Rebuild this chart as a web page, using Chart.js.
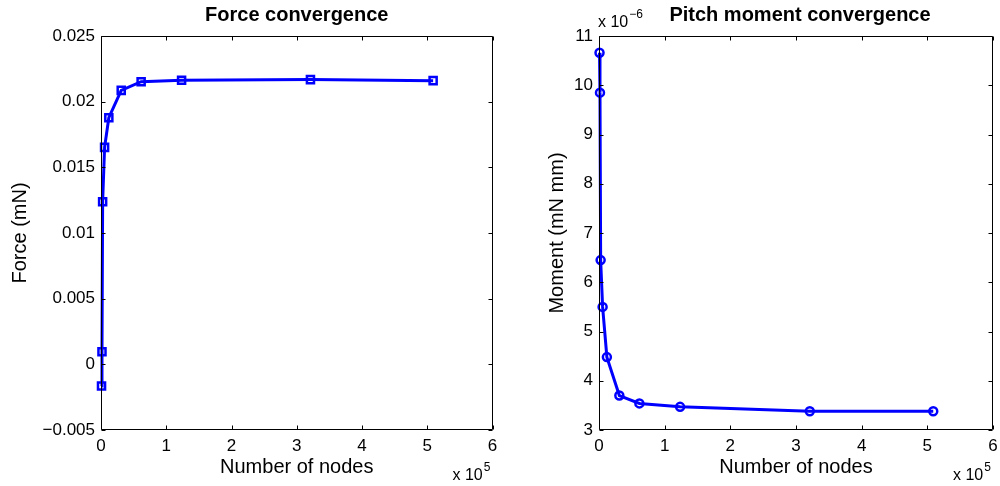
<!DOCTYPE html>
<html>
<head>
<meta charset="utf-8">
<script src="https://cdn.jsdelivr.net/npm/chart.js@4/dist/chart.umd.min.js"></script>
<style>
body { margin: 0; background: #fff; }
#wrap { position: relative; width: 1000px; height: 486px; }
.box { position: absolute; top: 0; width: 500px; height: 486px; }
</style>
</head>
<body>
<div id="wrap">
    <div class="box" style="left:0"><canvas id="chartForce"></canvas></div>
    <div class="box" style="left:500px"><canvas id="chartMoment"></canvas></div>
</div>
<script>
// mesh sizes (number of nodes)
var nodes = [800, 1500, 2500, 5500, 12000, 31000, 61500, 123500, 321000, 509000];
// force (mN)
var force = [-0.00165, 0.00096, 0.01238, 0.01652, 0.01878, 0.02086, 0.02152, 0.02163, 0.02168, 0.0216];
// pitch moment (x 1e-6 mN mm)
var moment = [10.66, 9.85, 6.45, 5.50, 4.48, 3.70, 3.54, 3.47, 3.38, 3.38];

var xTicks = [0, 100000, 200000, 300000, 400000, 500000, 600000];
var forceTicks = [-0.005, 0, 0.005, 0.01, 0.015, 0.02, 0.025];
var momentTicks = [3, 4, 5, 6, 7, 8, 9, 10, 11];

Chart.defaults.font.family = '"Liberation Sans", Arial, sans-serif';
Chart.defaults.color = '#000';

function fmtNum(v) {
    var s = parseFloat(v.toFixed(4)).toString();
    return s.replace('-', '\u2212');
}

// box, inward ticks, title and the "x 10^n" labels
var matlabFrame = {
    id: 'matlabFrame',
    afterDraw: function (chart) {
        var a = chart.chartArea, ctx = chart.ctx;
        var o = chart.options.plugins.matlabFrame;
        var xs = chart.scales.x, ys = chart.scales.y;
        ctx.save();
        ctx.strokeStyle = '#000';
        ctx.lineWidth = 1;
        var l = Math.round(a.left) + 0.5, r = Math.round(a.right) - 0.5;
        var t = Math.round(a.top) + 0.5, b = Math.round(a.bottom) - 0.5;
        ctx.beginPath();
        ctx.rect(l, t, r - l, b - t);
        xs.ticks.forEach(function (tk) {
            var px = Math.round(xs.getPixelForValue(tk.value)) + 0.5;
            ctx.moveTo(px, b); ctx.lineTo(px, b - 4);
            ctx.moveTo(px, t); ctx.lineTo(px, t + 4);
        });
        ys.ticks.forEach(function (tk) {
            var py = Math.round(ys.getPixelForValue(tk.value)) + 0.5;
            ctx.moveTo(l, py); ctx.lineTo(l + 4, py);
            ctx.moveTo(r, py); ctx.lineTo(r - 4, py);
        });
        ctx.stroke();

        ctx.fillStyle = '#000';
        ctx.font = 'bold 20px "Liberation Sans", Arial, sans-serif';
        ctx.textAlign = 'center';
        ctx.textBaseline = 'alphabetic';
        ctx.fillText(o.title, (a.left + a.right) / 2 + o.titleShift, 21);

        ctx.textAlign = 'left';
        ctx.font = '16px "Liberation Sans", Arial, sans-serif';
        var bx = a.right - 40;
        ctx.fillText('x 10', bx, 480);
        var w = ctx.measureText('x 10').width;
        ctx.font = '12px "Liberation Sans", Arial, sans-serif';
        ctx.fillText('5', bx + w + 1, 471);

        if (o.yExp) {
            ctx.font = '16px "Liberation Sans", Arial, sans-serif';
            ctx.fillText('x 10', a.left - 1, 27);
            var w2 = ctx.measureText('x 10').width;
            ctx.font = '12px "Liberation Sans", Arial, sans-serif';
            ctx.fillText(o.yExp, a.left + w2, 18);
        }
        ctx.restore();
    }
};

function makeChart(id, values, yTicks, yLabel, title, marker, padRight, yTitlePad, yExp, titleShift) {
    var pts = [];
    for (var i = 0; i < nodes.length; i++) {
        pts.push({ x: nodes[i], y: values[i] });
    }
    return new Chart(document.getElementById(id), {
        type: 'line',
        data: {
            datasets: [{
                data: pts,
                clip: false,
                borderColor: '#0000ff',
                borderWidth: 3,
                pointStyle: marker,
                pointRadius: marker === 'rect' ? 5 : 4,
                pointBorderWidth: 2.5,
                pointBorderColor: '#0000ff',
                pointBackgroundColor: 'rgba(0,0,0,0)',
                tension: 0
            }]
        },
        options: {
            responsive: true,
            maintainAspectRatio: false,
            animation: false,
            layout: { padding: { left: 0, right: padRight, top: 36, bottom: 0 } },
            plugins: {
                legend: { display: false },
                tooltip: { enabled: false },
                matlabFrame: { title: title, yExp: yExp, titleShift: titleShift }
            },
            scales: {
                x: {
                    type: 'linear',
                    min: 0,
                    max: 600000,
                    afterBuildTicks: function (s) { s.ticks = xTicks.map(function (v) { return { value: v }; }); },
                    afterFit: function (s) { s.height = 56; s.paddingLeft = 0; s.paddingRight = 0; },
                    grid: { display: false, drawTicks: false },
                    border: { display: false },
                    ticks: {
                        padding: 6,
                        font: { size: 17 },
                        maxRotation: 0,
                        callback: function (v) { return fmtNum(v / 100000); }
                    },
                    title: { display: true, text: 'Number of nodes', font: { size: 20 }, padding: { bottom: 7 } }
                },
                y: {
                    type: 'linear',
                    min: yTicks[0],
                    max: yTicks[yTicks.length - 1],
                    afterBuildTicks: function (s) { s.ticks = yTicks.map(function (v) { return { value: v }; }); },
                    afterFit: function (s) { s.width = 500 - padRight - 394; s.paddingTop = 0; s.paddingBottom = 0; },
                    grid: { display: false, drawTicks: false },
                    border: { display: false },
                    ticks: {
                        padding: 6,
                        font: { size: 17 },
                        callback: function (v) { return fmtNum(v); }
                    },
                    title: { display: true, text: yLabel, font: { size: 20 }, padding: { top: yTitlePad } }
                }
            }
        },
        plugins: [matlabFrame]
    });
}

makeChart('chartForce', force, forceTicks, 'Force (mN)', 'Force convergence', 'rect', 5, 8, null, 0);
makeChart('chartMoment', moment, momentTicks, 'Moment (mN mm)', 'Pitch moment convergence', 'circle', 7, 45, '\u22126', 4);
</script>
</body>
</html>
